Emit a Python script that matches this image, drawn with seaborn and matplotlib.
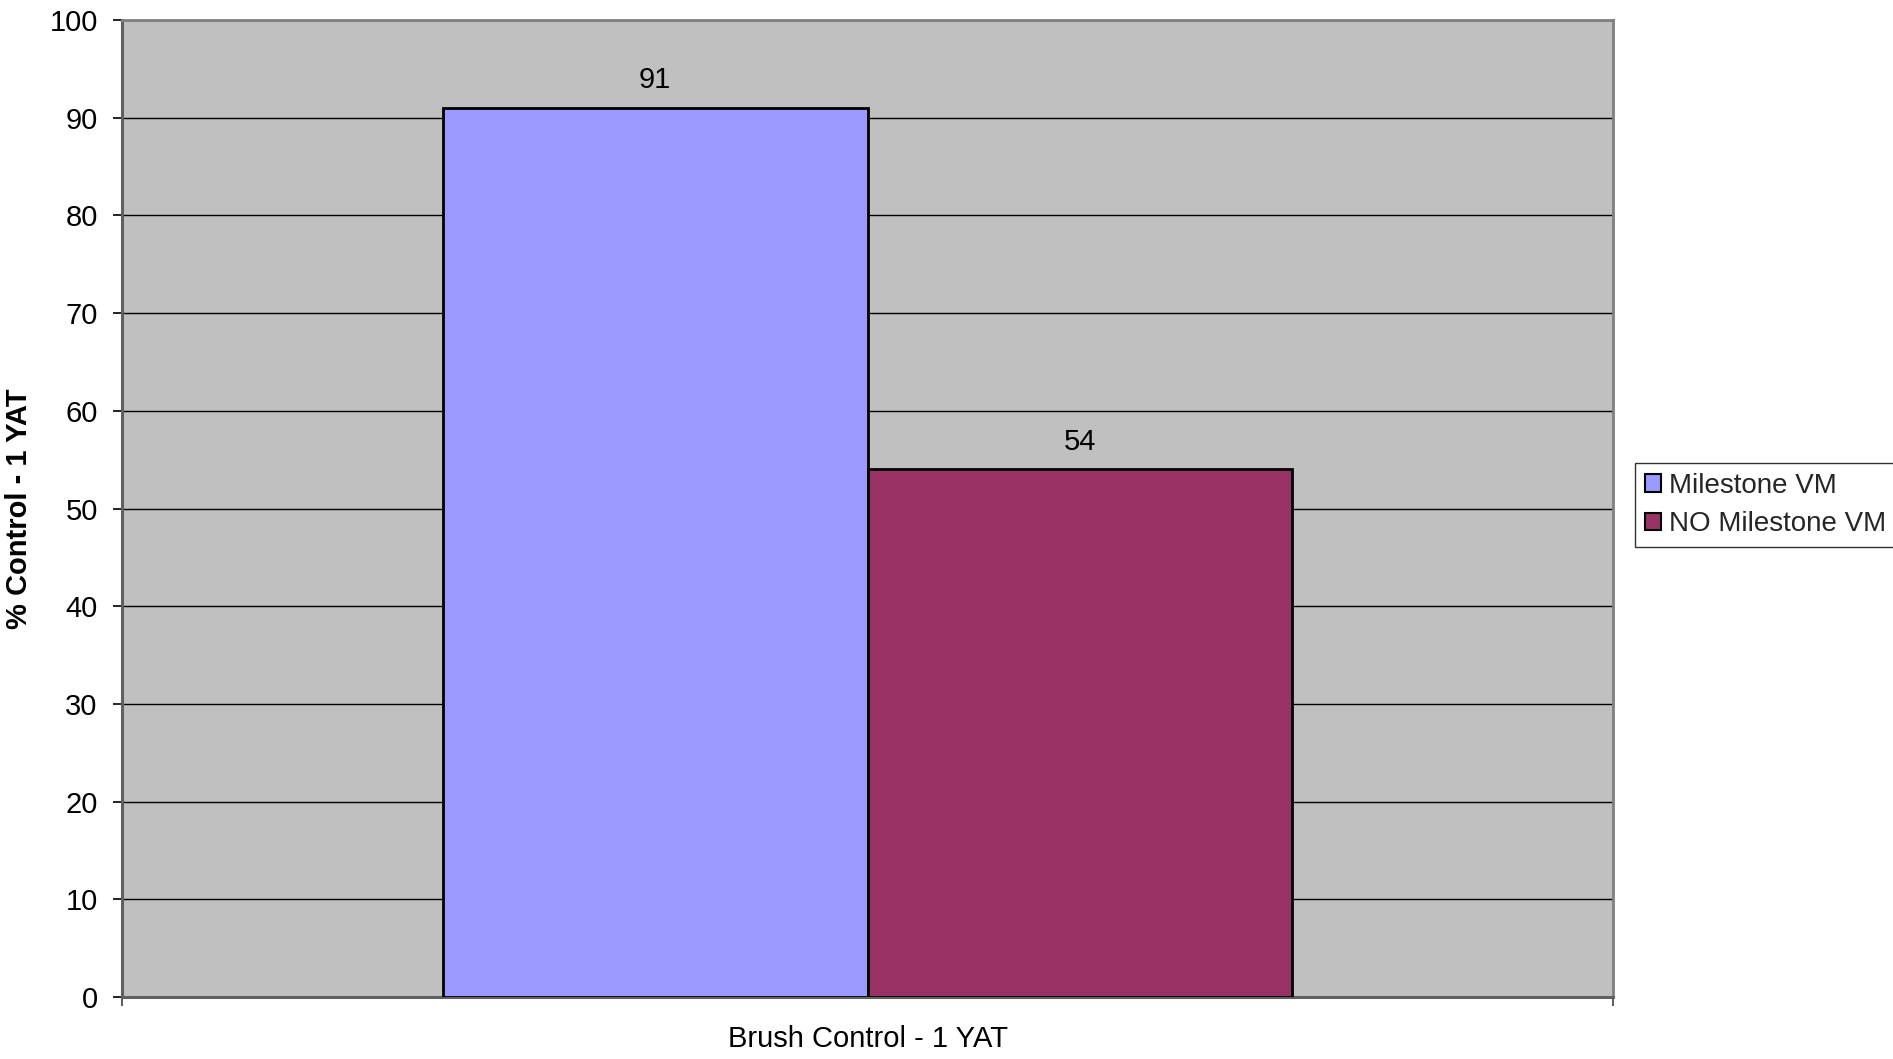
import matplotlib
matplotlib.use("Agg")
import matplotlib.pyplot as plt
import seaborn as sns
import pandas as pd
from matplotlib.patches import Patch

categories = ["Brush Control - 1 YAT"]
series = ["Milestone VM", "NO Milestone VM"]
values = [91, 54]
colors = ["#9999FF", "#993366"]
yticks = [0, 10, 20, 30, 40, 50, 60, 70, 80, 90, 100]

df = pd.DataFrame({
    "category": [categories[0]] * len(series),
    "series": series,
    "value": values,
})

sns.set_theme(style="white")
plt.rcParams["font.family"] = ["Liberation Sans", "DejaVu Sans"]

FS = 21

fig = plt.figure(figsize=(18.93, 10.59), dpi=100)
ax = fig.add_axes([122 / 1893, 62 / 1059, 1491 / 1893, 977 / 1059])
ax.set_facecolor("#C0C0C0")

sns.barplot(data=df, x="category", y="value", hue="series", hue_order=series,
            palette=colors, width=0.57, edgecolor="black", linewidth=2,
            saturation=1, legend=False, ax=ax, zorder=3)

ax.set_ylim(0, 100)
ax.set_xlim(-0.5, 0.5)
ax.set_yticks(yticks)
ax.set_yticklabels([str(v) for v in yticks], fontsize=FS, color="black")
ax.yaxis.grid(True, color="black", linewidth=1)
ax.set_axisbelow(True)
ax.tick_params(axis="y", direction="out", length=6.5, width=1.2, color="black",
               pad=11, left=True)

ax.set_xticks([-0.5, 0.5])
ax.set_xticklabels(["", ""])
ax.set_xticks([0], minor=True)
ax.set_xticklabels(categories, minor=True, fontsize=FS, color="black")
ax.tick_params(axis="x", which="major", direction="out", length=6.5, width=1.2,
               color="#404040", bottom=True)
ax.tick_params(axis="x", which="minor", length=0, pad=20)
ax.set_xlabel("")

ax.set_ylabel("% Control - 1 YAT", fontsize=FS, fontweight="bold", color="black")
ax.yaxis.set_label_coords(-0.0597, 0.5)

for side in ["top", "right"]:
    ax.spines[side].set_color("#808080")
    ax.spines[side].set_linewidth(2)
    ax.spines[side].set_visible(True)
for side in ["left", "bottom"]:
    ax.spines[side].set_color("#606060")
    ax.spines[side].set_linewidth(2.2)
    ax.spines[side].set_visible(True)

for cont in ax.containers:
    ax.bar_label(cont, fmt="%d", fontsize=FS, padding=10, color="black")

handles = [Patch(facecolor=c, edgecolor="black", linewidth=1.5) for c in colors]
leg = fig.legend(handles, series, loc="upper left",
                 bbox_to_anchor=(1635 / 1893, 1 - 463 / 1059),
                 bbox_transform=fig.transFigure, fontsize=20, frameon=True,
                 fancybox=False, shadow=False, borderaxespad=0, borderpad=0.35,
                 handlelength=0.58, handleheight=0.58, handletextpad=0.3,
                 labelspacing=0.45)
leg.get_frame().set_edgecolor("black")
leg.get_frame().set_linewidth(1)
leg.get_frame().set_facecolor("white")

fig.savefig("out.png", dpi=100, facecolor="white")
